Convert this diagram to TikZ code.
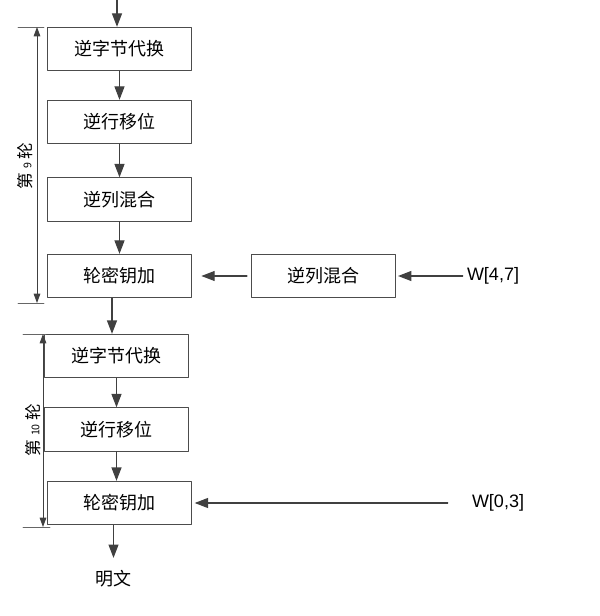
\documentclass[tikz,border=0pt]{standalone}
\usepackage{fontspec}
\setmainfont{Liberation Sans}
\newfontfamily\cjk{Noto Sans CJK SC}
\usetikzlibrary{arrows.meta,positioning}

\begin{document}
\begin{tikzpicture}[x=0.75pt,y=-0.75pt,line cap=round,line join=round,
  box/.style={draw=black!70,line width=.8pt,minimum width=108pt,minimum height=32.5pt,inner sep=0pt,font=\cjk\fontsize{13.5}{16}\selectfont},
  flow/.style={draw=black!75,line width=.8pt,-{Triangle[length=10pt,width=7.5pt]}},
  span/.style={draw=black!75,line width=.6pt,{Triangle[length=7pt,width=5pt]}-{Triangle[length=7pt,width=5pt]}},
  tick/.style={draw=black!60,line width=.6pt},
  key/.style={font=\fontsize{13.5}{16}\selectfont,inner sep=1pt},
  round/.style={rotate=90,inner sep=0pt,font=\cjk\fontsize{12.5}{14}\selectfont}]
\path[use as bounding box] (0,0) rectangle (599,616);
% round 9
\coordinate (in) at (117,0);
\node[box] (sub9) at (119.5,49) {逆字节代换};
\node[box] (shift9) at (119.5,122) {逆行移位};
\node[box] (mix9) at (119.5,199.5) {逆列混合};
\node[box] (add9) at (119.5,276) {轮密钥加};
\node[box] (keymix) at (323.5,276) {逆列混合};
\node[key] (w47) at (493,276) {W[4,7]};
\draw[flow] (in) -- (in |- sub9.north);
\draw[flow] (sub9) -- (shift9);
\draw[flow] (shift9) -- (mix9);
\draw[flow] (mix9) -- (add9);
\draw[flow,shorten >=7pt,shorten <=3pt] (keymix) -- (add9);
\draw[flow,shorten >=1.5pt,shorten <=2pt] (w47) -- (keymix);
% round 10
\node[box] (sub10) at (116.5,356) {逆字节代换};
\node[box] (shift10) at (116.5,429.5) {逆行移位};
\node[box] (add10) at (119.5,503) {轮密钥加};
\node[key] (w03) at (498,503) {W[0,3]};
\node[font=\cjk\fontsize{13.5}{16}\selectfont] (plain) at (113.5,579) {明文};
\draw[flow] (112,0 |- add9.south) -- (112,0 |- sub10.north);
\draw[flow] (sub10) -- (shift10);
\draw[flow] (shift10) -- (shift10 |- add10.north);
\draw[flow,shorten >=2pt,shorten <=17pt] (w03) -- (add10);
\draw[flow,shorten >=6pt] (plain |- add10.south) -- (plain);
% round brackets
\coordinate (r9top) at (37,27);
\coordinate (r9bot) at (37,303);
\draw[tick] (18,27) -- (44,27);
\draw[tick] (18,303) -- (44,303);
\draw[span] (r9top) -- (r9bot);
\node[round] (r9) at (25,166) {第 {\fontsize{8}{9}\selectfont 9} 轮};
\coordinate (r10top) at (43,334);
\coordinate (r10bot) at (43,527);
\draw[tick] (23,334) -- (46,334);
\draw[tick] (23,527) -- (50,527);
\draw[span] (r10top) -- (r10bot);
\node[round] (r10) at (33,430) {第 {\fontsize{8}{9}\selectfont 10} 轮};
\end{tikzpicture}
\end{document}
